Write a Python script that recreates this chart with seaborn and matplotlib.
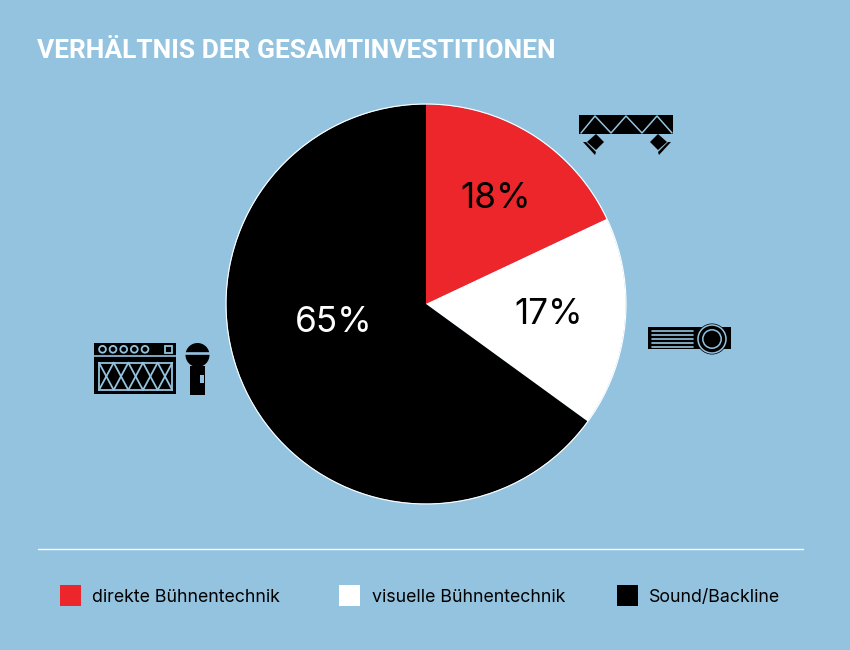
import matplotlib
matplotlib.use("Agg")
import matplotlib.pyplot as plt
from matplotlib.patches import Circle, Polygon, Rectangle
import seaborn as sns

# Data
categories = ["direkte Bühnentechnik", "visuelle Bühnentechnik", "Sound/Backline"]
shares = [18, 17, 65]
title = "VERHÄLTNIS DER GESAMTINVESTITIONEN"

# Colours
bg = "#94c3e0"
colors = sns.color_palette(["#ec262a", "#ffffff", "#000000"])
label_colors = ["black", "black", "white"]

sns.set_theme(style="white")
plt.rcParams["font.family"] = ["Inter", "DejaVu Sans"]

fig = plt.figure(figsize=(8.5, 6.5), dpi=100, facecolor=bg)
# axes cover the whole figure, one data unit is one pixel, y runs downwards
ax = fig.add_axes([0, 0, 1, 1])

ax.pie(
    shares,
    colors=colors,
    center=(426, 304),
    radius=199.5,
    startangle=270,
    counterclock=True,
    wedgeprops={"linewidth": 0},
)
ax.add_patch(Circle((426, 304), 200, fill=False, edgecolor="white", lw=0.8, zorder=3))
ax.set_xlim(0, 850)
ax.set_ylim(650, 0)
ax.set_aspect("equal")
ax.axis("off")

# Percent labels
label_pos = [(495.5, 198), (548.5, 314), (334, 322)]
for value, pos, c in zip(shares, label_pos, label_colors):
    ax.text(pos[0], pos[1], f"{value}%", color=c, fontsize=25.3, ha="center", va="center")

ax.text(37, 50.5, title, color="white", fontsize=19, fontfamily="Roboto",
        fontweight="bold", ha="left", va="center")

# Divider and legend
ax.plot([38, 803], [549, 549], color="white", lw=1.0)
legend_x = [60, 339, 617]
text_x = [92, 372, 649]
for name, c, lx, tx in zip(categories, colors, legend_x, text_x):
    ax.add_patch(Rectangle((lx, 585), 21, 21, facecolor=c, edgecolor="none"))
    ax.text(tx, 597, name, color="black", fontsize=12.8, ha="left", va="center")


# Icons
def box(x0, y0, x1, y1, fc="black", ec="none", lw=0, z=4):
    ax.add_patch(Rectangle((x0, y0), x1 - x0, y1 - y0, facecolor=fc, edgecolor=ec, lw=lw, zorder=z))


# truss with two spots
box(579, 115, 673, 134)
ax.plot([581, 595, 611, 626, 642, 657, 672], [133, 116, 133, 116, 133, 116, 133],
        color=bg, lw=1.1, zorder=5)
for flip in [False, True]:
    fx = (lambda x: 1254 - x) if flip else (lambda x: x)
    diamond = [(596, 134), (604, 142), (596, 150), (587, 142)]
    wedge = [(583, 142), (586, 142), (596, 152), (595, 155)]
    ax.add_patch(Polygon([(fx(x), y) for x, y in diamond], facecolor="black", edgecolor="none", zorder=4))
    ax.add_patch(Polygon([(fx(x), y) for x, y in wedge], facecolor="black", edgecolor="none", zorder=4))

# projector
box(648.5, 327, 731, 348.5)
for y in [330.7, 335, 339, 343.3, 346.7]:
    ax.plot([652, 693], [y, y], color=bg, lw=1.2, zorder=5)
ax.add_patch(Circle((712, 339), 15.5, facecolor="black", edgecolor="none", zorder=5))
ax.add_patch(Circle((712, 339), 14, facecolor="none", edgecolor=bg, lw=1.1, zorder=6))
ax.add_patch(Circle((712, 339), 9.2, facecolor="none", edgecolor=bg, lw=1.1, zorder=6))

# amp
box(94.5, 343, 176, 394)
ax.plot([94.5, 176], [356, 356], color=bg, lw=1.2, zorder=5)
for x in [102.5, 113, 123.7, 134.3, 145]:
    ax.add_patch(Circle((x, 349.3), 3.4, facecolor="black", edgecolor=bg, lw=1.3, zorder=5))
box(165, 345.5, 172.3, 352.7, ec=bg, lw=1.3, z=5)
box(99, 362.7, 172.3, 390, ec=bg, lw=1.3, z=5)
cell = (172.3 - 99) / 5
for i in range(5):
    x0 = 99 + i * cell
    ax.plot([x0, x0 + cell], [362.7, 390], color=bg, lw=1.3, zorder=6)
    ax.plot([x0, x0 + cell], [390, 362.7], color=bg, lw=1.3, zorder=6)

# microphone
ax.add_patch(Circle((197.5, 355), 12, facecolor="black", edgecolor="none", zorder=4))
ax.plot([185, 210], [353, 353], color=bg, lw=1.9, zorder=5)
box(190, 366, 205, 394.5)
box(200, 374.7, 203.7, 383, fc=bg)

fig.savefig("out.png", dpi=100, facecolor=bg)
